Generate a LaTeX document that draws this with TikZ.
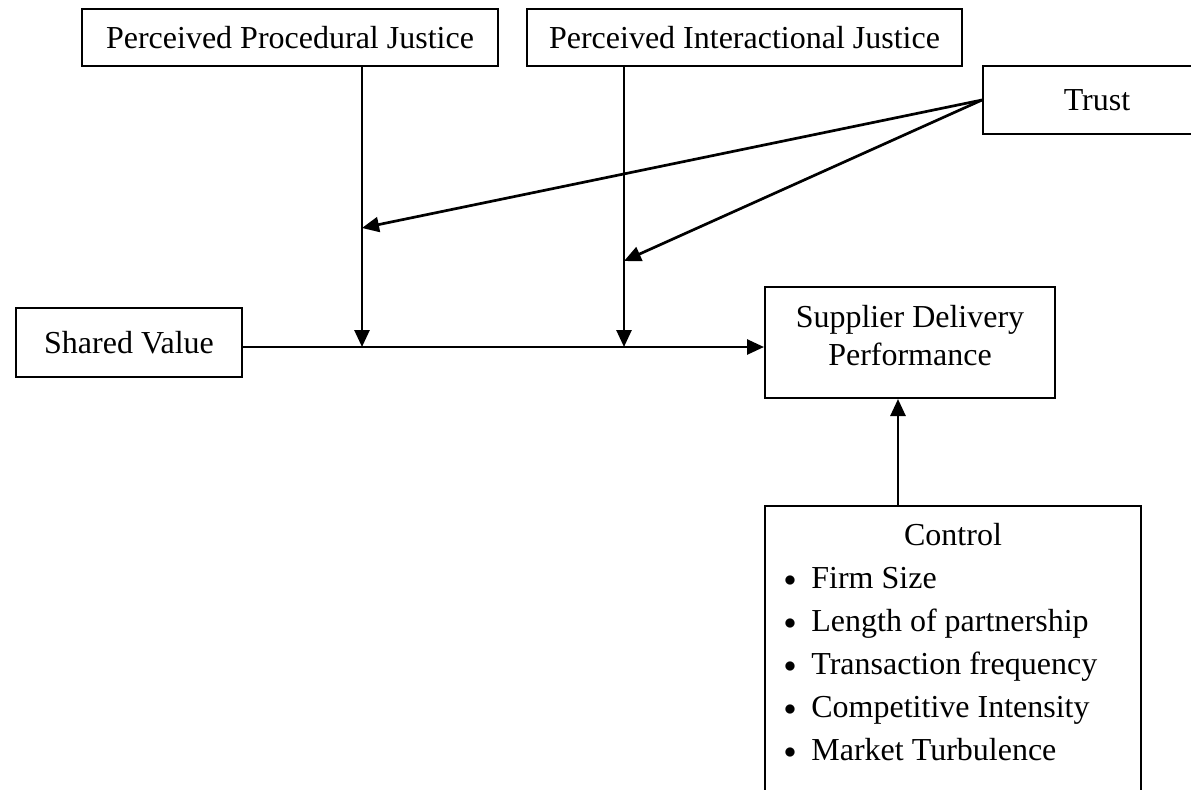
\documentclass[tikz,border=0pt]{standalone}
\usepackage{fontspec}
\setmainfont{Liberation Serif}
\usepackage{tikz}
\usetikzlibrary{arrows.meta,calc}

\begin{document}
\begin{tikzpicture}[x=0.5pt,y=-0.5pt,font=\fontsize{16}{19}\selectfont,
  box/.style={draw,line width=1pt,inner sep=0pt,align=center},
  item/.style={anchor=base west,inner sep=0pt},
  dot/.style={anchor=base,inner sep=0pt,font=\fontsize{12}{14}\selectfont},
  arr/.style={line width=1.35pt,-{Triangle[length=8.5pt,width=7.5pt]}}]
  \useasboundingbox (0,0) rectangle (1191,789);

  \node[box,minimum width=208pt,minimum height=28.5pt] (ppj) at (290,37.5)
    {Perceived Procedural Justice};
  \node[box,minimum width=217.5pt,minimum height=28.5pt] (pij) at (744.5,37.5)
    {Perceived Interactional Justice};
  \node[box,minimum width=114pt,minimum height=34pt] (trust) at (1097,100)
    {Trust};
  \node[box,minimum width=113pt,minimum height=34.5pt] (shared) at (129,342.5)
    {Shared Value};
  \node[box,minimum width=145pt,minimum height=55.5pt] (sdp) at (910,342.5) {};
  \node[align=center,inner sep=0pt] (sdptext) at (910,336)
    {Supplier Delivery\\Performance};

  \node[minimum width=188pt,minimum height=150pt,inner sep=0pt,anchor=north]
    (control) at (953,506) {};
  \draw[line width=1pt] (control.south west) |- (control.north east)
    -- (control.south east);
  \node[anchor=base] (ctrlhead) at (953,545) {Control};
  \node[dot] (b1) at (790,586) {$\bullet$};
  \node[item] (firm) at (811,588) {Firm Size};
  \node[dot] (b2) at (790,629) {$\bullet$};
  \node[item] (length) at (811,631) {Length of partnership};
  \node[dot] (b3) at (790,672) {$\bullet$};
  \node[item] (freq) at (811,674) {Transaction frequency};
  \node[dot] (b4) at (790,715) {$\bullet$};
  \node[item] (compet) at (811,717) {Competitive Intensity};
  \node[dot] (b5) at (790,758) {$\bullet$};
  \node[item] (market) at (811,760) {Market Turbulence};

  \coordinate (j1) at (362,347);
  \coordinate (j2) at (624,347);
  \coordinate (t1) at (362,228);
  \coordinate (t2) at (624,261);
  \coordinate (cin) at (898,506);

  \draw[arr] (shared.east |- j1) -- (j1 -| sdp.west);
  \draw[arr] (ppj.south -| j1) -- (j1);
  \draw[arr] (pij.south -| j2) -- (j2);
  \draw[arr] (trust.west) -- (t1);
  \draw[arr] (trust.west) -- (t2);
  \draw[arr] (cin) -- (cin |- sdp.south);
\end{tikzpicture}
\end{document}
